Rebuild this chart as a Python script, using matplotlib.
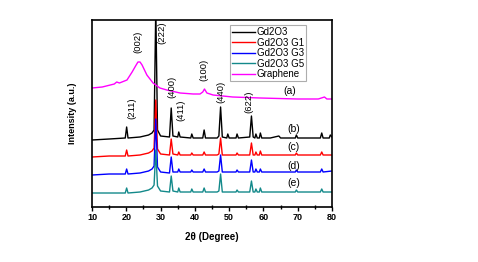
import matplotlib
matplotlib.use("Agg")
import matplotlib.pyplot as plt
from matplotlib.ticker import MultipleLocator

plt.rcParams['font.family'] = ['Liberation Sans', 'DejaVu Sans']

# ---- data (2theta, intensity a.u. with offsets) ----
tt_b = [10, 15, 19.7, 20.1, 20.5, 24, 26.5, 27.5, 28.1, 28.6, 29.1, 30, 32.6, 33.1, 33.6, 35.0, 35.3, 35.7,
        38.8, 39.1, 39.5, 42.3, 42.7, 43.1, 46.5, 47.0, 47.5, 48.0, 49.3, 49.6, 50.0, 52.0, 52.3, 52.7,
        56.0, 56.5, 57.0, 57.5, 57.8, 58.2, 58.8, 59.1, 59.5, 62, 64.5, 65, 69.3, 69.6, 70, 76.6, 77.0, 77.4,
        79.2, 79.5, 80]
I_b = [67, 68, 69, 80, 69, 70, 72, 74, 77, 200, 77, 71, 70, 99, 71, 70, 75, 70,
       69, 73, 69, 69, 77, 69, 69, 71, 100, 70, 69, 73, 69, 69, 73, 69,
       70, 91, 70, 69, 73, 69, 69, 74, 69, 69, 71, 69, 69, 72, 69, 69, 74, 69,
       69, 72, 70]

tt_c = [10, 15, 19.7, 20.1, 20.5, 24, 26.5, 27.5, 28.1, 28.6, 29.1, 30, 32.6, 33.1, 33.6, 35.0, 35.3, 35.7,
        38.8, 39.1, 39.5, 42.3, 42.7, 43.1, 46.5, 47.0, 47.5, 48.0, 52.0, 52.3, 52.7,
        56.0, 56.5, 57.0, 57.5, 57.8, 58.2, 58.8, 59.1, 59.5, 62, 69.3, 69.6, 70, 76.6, 77.0, 77.4, 80]
I_c = [50, 51, 51, 57, 51, 52, 54, 56, 59, 107, 58, 53, 52, 68, 53, 52, 55, 52,
       52, 54, 52, 52, 55, 52, 52, 53, 69, 52, 52, 54, 52,
       52, 64, 52, 52, 55, 52, 52, 56, 52, 52, 52, 54, 52, 52, 55, 52, 52]

tt_d = tt_c
I_d = [32, 33, 33, 38, 33, 34, 36, 38, 41, 88, 40, 35, 34, 50, 35, 35, 38, 35,
       35, 37, 35, 35, 38, 35, 35, 36, 52, 35, 35, 37, 35,
       35, 47, 35, 35, 38, 35, 35, 38, 35, 35, 35, 37, 35, 35, 38, 35, 36]

tt_e = tt_c
I_e = [14, 14, 14, 19, 14, 15, 17, 19, 22, 57, 21, 16, 15, 31, 16, 15, 19, 15,
       15, 18, 15, 15, 19, 15, 15, 16, 33, 15, 15, 17, 15,
       15, 26, 15, 15, 18, 15, 15, 19, 15, 15, 15, 17, 15, 15, 18, 15, 15]

tt_a = [10, 13, 16.5, 17.2, 18, 20.2, 21.7, 22.7, 23.4, 24.0, 24.6, 26.0, 27.8, 29.8, 31.8, 35.7, 39.5,
        41.5, 42.3, 42.8, 43.5, 45.3, 51, 59, 70, 76, 77.8, 78.5, 80]
I_a = [119, 120, 123, 125, 124, 127, 135, 141, 145, 145, 142, 132, 124, 119, 117, 114, 113,
       113, 115, 118, 114, 112, 110, 109, 108, 108, 110, 108, 108]

series = [
    (tt_b, I_b, 'black', 'Gd2O3'),
    (tt_c, I_c, 'red', 'Gd2O3 G1'),
    (tt_d, I_d, 'blue', 'Gd2O3 G3'),
    (tt_e, I_e, '#13898a', 'Gd2O3 G5'),
    (tt_a, I_a, 'magenta', 'Graphene'),
]

# peak labels: (text, 2theta, y)
hkl_labels = [('(002)', 23.5, 165), ('(222)', 30.4, 174), ('(211)', 21.7, 99), ('(400)', 33.4, 120),
              ('(411)', 35.8, 97), ('(100)', 42.6, 137), ('(440)', 47.6, 115), ('(622)', 55.8, 105)]
curve_labels = [('(a)', 67.8, 116), ('(b)', 68.8, 78), ('(c)', 68.8, 60), ('(d)', 68.8, 41), ('(e)', 68.8, 24)]

fig = plt.figure(figsize=(4.78, 2.62), dpi=100)
ax = fig.add_axes([0.1925, 0.2099, 0.5021, 0.7138])

for x, y, c, lab in series:
    ax.plot(x, y, color=c, lw=1.0, label=lab)

for t, x, y in hkl_labels:
    ax.text(x, y, t, rotation=90, ha='center', va='center', fontsize=6.8)
for t, x, y in curve_labels:
    ax.text(x, y, t, ha='center', va='center', fontsize=7.5)

ax.set_xlim(10, 80)
ax.set_ylim(0, 187)
ax.set_yticks([])
ax.xaxis.set_major_locator(MultipleLocator(10))
ax.xaxis.set_minor_locator(MultipleLocator(5))
ax.tick_params(axis='x', which='major', direction='out', length=3, width=1, labelsize=6.5, pad=1.5)
ax.tick_params(axis='x', which='minor', direction='inout', length=3, width=1)
for lbl in ax.get_xticklabels():
    lbl.set_fontweight('bold')
for s in ax.spines.values():
    s.set_linewidth(1.2)

ax.set_xlabel('2θ (Degree)', fontsize=7, fontweight='bold', labelpad=7)
ax.set_ylabel('Intensity (a.u.)', fontsize=6.5, fontweight='bold', labelpad=11)

leg = ax.legend(loc='upper right', bbox_to_anchor=(0.892, 0.975), fontsize=7, frameon=True,
                fancybox=False, edgecolor='#999999', handlelength=2.3, handletextpad=0.2,
                labelspacing=0.05, borderpad=0.25, borderaxespad=0)
leg.get_frame().set_linewidth(0.8)

fig.savefig('out.png', dpi=100)
